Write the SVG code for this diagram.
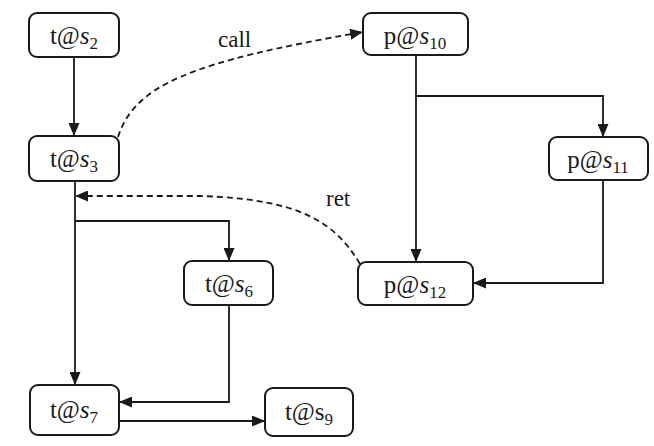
<svg xmlns="http://www.w3.org/2000/svg" width="654" height="446" viewBox="0 0 654 446">
  <defs>
    <marker id="arrow" viewBox="0 0 13 11" refX="13" refY="5.5" markerWidth="13" markerHeight="11" markerUnits="userSpaceOnUse" orient="auto">
      <path d="M0,0 L13,5.5 L0,11 Z" fill="#1a1a1a"/>
    </marker>
    <style>
      .box { fill: #ffffff; stroke: #1a1a1a; stroke-width: 2; }
      .lbl { font-family: "Liberation Serif", "Times New Roman", serif; font-size: 25px; fill: #1a1a1a; text-anchor: middle; }
      .it { font-style: italic; }
      .sub { font-size: 17px; }
      .edge { fill: none; stroke: #1a1a1a; stroke-width: 1.8; }
      .dash { fill: none; stroke: #1a1a1a; stroke-width: 1.8; stroke-dasharray: 6 4; }
      .elbl { font-family: "Liberation Serif", "Times New Roman", serif; font-size: 23px; fill: #1a1a1a; }
    </style>
  </defs>
  <rect width="654" height="446" fill="#ffffff"/>

  <g id="connectors">
    <!-- thread side -->
    <path class="edge" d="M74,57 L74,136" marker-end="url(#arrow)"/>
    <path class="edge" d="M75,181 L75,385" marker-end="url(#arrow)"/>
    <path class="edge" d="M75,221 L229,221 L229,261" marker-end="url(#arrow)"/>
    <path class="edge" d="M229,305 L229,402 L119,402" marker-end="url(#arrow)"/>
    <path class="edge" d="M119,421 L265,421" marker-end="url(#arrow)"/>
    <!-- procedure side -->
    <path class="edge" d="M416,55 L416,262" marker-end="url(#arrow)"/>
    <path class="edge" d="M416,96 L603,96 L603,137" marker-end="url(#arrow)"/>
    <path class="edge" d="M603,180 L603,283 L473,283" marker-end="url(#arrow)"/>
    <!-- call / return -->
    <path class="dash" d="M118,137 C135,85 190,62 363,32" marker-end="url(#arrow)"/>
    <text class="elbl" x="218" y="47">call</text>
    <path class="dash" d="M360,264 C335,222 300,199 200,196 L75,196" marker-end="url(#arrow)"/>
    <text class="elbl" x="326" y="206">ret</text>
  </g>

  <g id="n-t-s2">
    <rect class="box" x="29" y="13" width="90" height="44" rx="8"/>
    <text class="lbl" x="74" y="44">t@<tspan class="it">s</tspan><tspan class="sub" dy="5">2</tspan></text>
  </g>
  <g id="n-t-s3">
    <rect class="box" x="29" y="136" width="90" height="45" rx="8"/>
    <text class="lbl" x="74" y="167">t@<tspan class="it">s</tspan><tspan class="sub" dy="5">3</tspan></text>
  </g>
  <g id="n-t-s6">
    <rect class="box" x="184" y="261" width="89" height="44" rx="8"/>
    <text class="lbl" x="229" y="292">t@<tspan class="it">s</tspan><tspan class="sub" dy="5">6</tspan></text>
  </g>
  <g id="n-t-s7">
    <rect class="box" x="30" y="385" width="89" height="50" rx="8"/>
    <text class="lbl" x="74" y="418">t@<tspan class="it">s</tspan><tspan class="sub" dy="5">7</tspan></text>
  </g>
  <g id="n-t-s9">
    <rect class="box" x="265" y="388" width="88" height="48" rx="8"/>
    <text class="lbl" x="309" y="420">t@s<tspan class="sub" dy="5">9</tspan></text>
  </g>
  <g id="n-p-s10">
    <rect class="box" x="363" y="13" width="105" height="42" rx="8"/>
    <text class="lbl" x="415" y="44">p@<tspan class="it">s</tspan><tspan class="sub" dy="5">10</tspan></text>
  </g>
  <g id="n-p-s11">
    <rect class="box" x="549" y="137" width="99" height="43" rx="8"/>
    <text class="lbl" x="598" y="168">p@<tspan class="it">s</tspan><tspan class="sub" dy="5">11</tspan></text>
  </g>
  <g id="n-p-s12">
    <rect class="box" x="358" y="262" width="115" height="43" rx="8"/>
    <text class="lbl" x="415" y="293">p@<tspan class="it">s</tspan><tspan class="sub" dy="5">12</tspan></text>
  </g>
</svg>
